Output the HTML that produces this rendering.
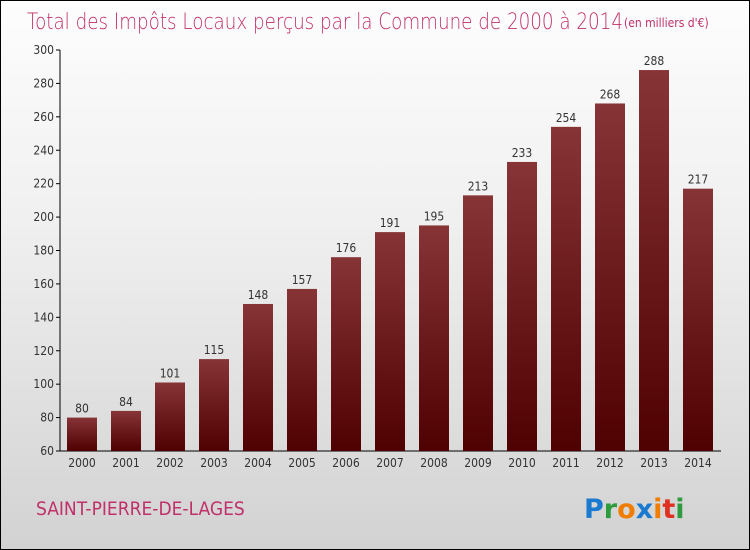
<!DOCTYPE html>
<html><head><meta charset="utf-8"><style>
body{margin:0}
#c{width:748px;height:548px;border:1px solid #000;position:relative;background:linear-gradient(#fdfdfd,#f0f0f0 40%,#d2d2d2);font-family:"DejaVu Sans Condensed","Liberation Sans",sans-serif;overflow:hidden}
</style></head><body>
<div id="c">
<svg width="748" height="548" style="position:absolute;left:0;top:0">
<defs><linearGradient id="g" x1="0" y1="0" x2="0" y2="1"><stop offset="0" stop-color="#873436"/><stop offset="1" stop-color="#4f0000"/></linearGradient></defs>
<text x="26" y="28" font-size="22" fill="#c0306a" font-family="DejaVu Sans,sans-serif" font-weight="200" textLength="596" lengthAdjust="spacingAndGlyphs">Total des Impôts Locaux perçus par la Commune de 2000 à 2014</text>
<text x="623" y="26" font-size="12" fill="#c0306a">(en milliers d'€)</text>
<g id="axes"></g><g id="bars"></g>
<text x="35" y="514" font-size="19" fill="#c0306a">SAINT-PIERRE-DE-LAGES</text>
<g font-size="27" font-family="DejaVu Sans,sans-serif" font-weight="bold">
<text x="583" y="517"><tspan fill="#1a7ad0">P</tspan><tspan fill="#2e9c3e">r</tspan><tspan fill="#f07d00">o</tspan><tspan fill="#1a7ad0">x</tspan><tspan fill="#f07d00">i</tspan><tspan fill="#e03020">t</tspan><tspan fill="#2e9c3e">i</tspan></text></g>
</svg></div>
<script>
const years=["2000","2001","2002","2003","2004","2005","2006","2007","2008","2009","2010","2011","2012","2013","2014"];
const values=[80,84,101,115,148,157,176,191,195,213,233,254,268,288,217];
const ticks=[60,80,100,120,140,160,180,200,220,240,260,280,300];
const NS="http://www.w3.org/2000/svg";
const y=v=>450-(v-60)*401/240;
const x=i=>81+i*44;
function mk(t,a,p){const e=document.createElementNS(NS,t);for(const k in a)e.setAttribute(k,a[k]);p.appendChild(e);return e;}
const ax=document.getElementById('axes'),bs=document.getElementById('bars');
let l=mk('line',{x1:59,y1:49,x2:59,y2:450,stroke:'#000'},ax);


l=mk('line',{x1:59,y1:450,x2:720,y2:450,stroke:'#000'},ax);


ticks.forEach(t=>{mk('line',{x1:55,x2:59,y1:y(t),y2:y(t),stroke:'#000'},ax);
const e=mk('text',{x:53,y:y(t)+4,'text-anchor':'end','font-size':12,fill:'#333'},ax);e.textContent=t;

});
years.forEach((yr,i)=>{
const r=mk('rect',{x:x(i)-15,y:y(values[i]),width:30,height:450-y(values[i]),fill:'url(#g)'},bs);


let t=mk('text',{x:x(i),y:y(values[i])-5,'text-anchor':'middle','font-size':12,fill:'#333'},bs);t.textContent=values[i];


t=mk('text',{x:x(i),y:466,'text-anchor':'middle','font-size':12,fill:'#333'},bs);t.textContent=yr;

});
</script>
</body></html>
